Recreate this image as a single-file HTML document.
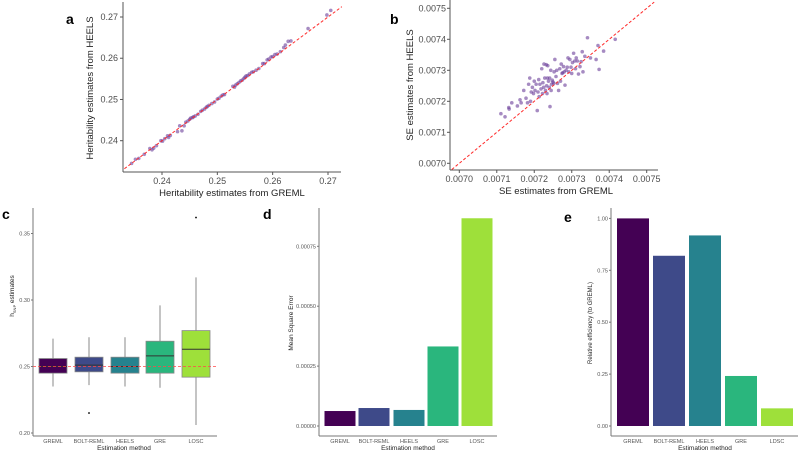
<!DOCTYPE html>
<html><head><meta charset="utf-8"><style>
html,body{margin:0;padding:0;background:#fff;}
svg{display:block;font-family:"Liberation Sans",sans-serif;}
</style></head><body>
<svg id="fig" width="800" height="452" viewBox="0 0 800 452"></svg>
<script>
// ---- data ----
const aX=[0.2345,0.2352,0.2358,0.2368,0.2378,0.2382,0.2385,0.2390,0.2398,0.2401,0.2405,0.2410,0.2412,0.2415,0.2428,0.2432,0.2436,0.2440,0.2443,0.2447,0.2450,0.2452,0.2455,0.2457,0.2460,0.2465,0.2470,0.2473,0.2477,0.2480,0.2482,0.2485,0.2490,0.2495,0.2500,0.2503,0.2507,0.2510,0.2513,0.2528,0.2531,0.2533,0.2536,0.2539,0.2542,0.2545,0.2548,0.2550,0.2552,0.2555,0.2558,0.2562,0.2565,0.2570,0.2575,0.2582,0.2585,0.2590,0.2593,0.2597,0.2600,0.2604,0.2608,0.2614,0.2620,0.2623,0.2628,0.2633,0.2664,0.2698,0.2705];
const aY=[0.2345,0.2355,0.2357,0.2367,0.2381,0.2378,0.2382,0.2388,0.2400,0.2399,0.2405,0.2412,0.2408,0.2413,0.2422,0.2436,0.2424,0.2436,0.2445,0.2448,0.2452,0.2455,0.2456,0.2458,0.2460,0.2464,0.2471,0.2474,0.2477,0.2481,0.2483,0.2486,0.2490,0.2494,0.2501,0.2503,0.2508,0.2511,0.2512,0.2532,0.2530,0.2535,0.2538,0.2541,0.2545,0.2547,0.2551,0.2554,0.2557,0.2558,0.2562,0.2566,0.2567,0.2571,0.2575,0.2587,0.2587,0.2596,0.2598,0.2603,0.2604,0.2609,0.2610,0.2616,0.2626,0.2632,0.2641,0.2642,0.2672,0.2705,0.2716];
const bX=[0.007111,0.007122,0.007132,0.007133,0.007140,0.007155,0.007162,0.007165,0.007172,0.007178,0.007182,0.007185,0.007188,0.007190,0.007192,0.007195,0.007198,0.007200,0.007202,0.007205,0.007208,0.007210,0.007212,0.007213,0.007215,0.007218,0.007220,0.007222,0.007223,0.007225,0.007226,0.007228,0.007230,0.007232,0.007233,0.007234,0.007235,0.007236,0.007238,0.007240,0.007241,0.007242,0.007244,0.007245,0.007246,0.007248,0.007250,0.007252,0.007253,0.007255,0.007258,0.007260,0.007262,0.007265,0.007268,0.007270,0.007272,0.007274,0.007276,0.007278,0.007280,0.007282,0.007285,0.007288,0.007290,0.007292,0.007295,0.007298,0.007300,0.007302,0.007305,0.007308,0.007310,0.007312,0.007315,0.007318,0.007322,0.007325,0.007328,0.007330,0.007335,0.007342,0.007350,0.007365,0.007370,0.007373,0.007385,0.007416];
const bY=[0.007160,0.007150,0.007180,0.007175,0.007195,0.007185,0.007205,0.007195,0.007235,0.007210,0.007195,0.007255,0.007275,0.007200,0.007230,0.007245,0.007225,0.007265,0.007235,0.007255,0.007170,0.007230,0.007270,0.007215,0.007255,0.007240,0.007305,0.007225,0.007260,0.007245,0.007320,0.007275,0.007235,0.007318,0.007250,0.007225,0.007275,0.007315,0.007265,0.007245,0.007275,0.007183,0.007300,0.007235,0.007255,0.007268,0.007262,0.007258,0.007295,0.007335,0.007280,0.007300,0.007258,0.007235,0.007305,0.007265,0.007320,0.007290,0.007292,0.007312,0.007295,0.007252,0.007300,0.007310,0.007340,0.007295,0.007335,0.007310,0.007290,0.007325,0.007355,0.007330,0.007305,0.007340,0.007330,0.007288,0.007312,0.007328,0.007360,0.007295,0.007345,0.007405,0.007340,0.007335,0.007380,0.007303,0.007362,0.007400];
const methods=["GREML","BOLT-REML","HEELS","GRE","LOSC"];
const colors=["#440154","#3e4a89","#26828e","#2ab67d","#9ee03a"];
const boxLo=[0.235,0.236,0.235,0.234,0.206];
const boxQ1=[0.245,0.246,0.245,0.245,0.242];
const boxMed=[0.250,0.251,0.250,0.258,0.263];
const boxQ3=[0.256,0.257,0.257,0.269,0.277];
const boxHi=[0.271,0.272,0.272,0.296,0.317];
const outM=[1,4];
const outV=[0.215,0.362];
const cTicks=[0.20,0.25,0.30,0.35];
const mse=[0.0000625,0.000075,0.000067,0.000332,0.000867];
const dTicks=[0,0.00025,0.0005,0.00075];
const dLabels=["0.00000","0.00025","0.00050","0.00075"];
const eMethods=["GREML","BOLT-REML","HEELS","GRE","LDSC"];
const eff=[1.0,0.82,0.918,0.241,0.085];
const eTicks=[0,0.25,0.5,0.75,1.0];
const eLabels=["0.00","0.25","0.50","0.75","1.00"];
const abTicks=[0.24,0.25,0.26,0.27];
const bTicks=[0.0070,0.0071,0.0072,0.0073,0.0074,0.0075];

const NS="http://www.w3.org/2000/svg";
const svg=document.getElementById('fig');
function el(tag,attrs,parent,txt){const e=document.createElementNS(NS,tag);for(const k in attrs)e.setAttribute(k,attrs[k]);if(txt!==undefined)e.textContent=txt;(parent||svg).appendChild(e);return e;}
function lin(d0,d1,r0,r1){return v=>r0+(v-d0)/(d1-d0)*(r1-r0);}
function grp(name){const g=el('g',{},svg);return g;}
function label(t,x,y){const e=el('text',{x:x,y:y,'font-size':14,'font-weight':'bold',fill:'#000'},svg,t);}

// ---- panel a ----
(function(){
const g=grp('panel-a-scatter');
const X=lin(0.24,0.27,162,328), Y=lin(0.24,0.27,140.7,17);
el('line',{x1:123,y1:2,x2:123,y2:172,stroke:'#555','stroke-width':1},g);
el('line',{x1:123,y1:172,x2:341,y2:172,stroke:'#555','stroke-width':1},g);
abTicks.forEach(t=>{
 el('line',{x1:X(t),y1:172,x2:X(t),y2:175,stroke:'#555'},g);
 el('text',{x:X(t),y:184,'font-size':9,fill:'#4d4d4d','text-anchor':'middle'},g,t.toFixed(2));
 el('line',{x1:120,y1:Y(t),x2:123,y2:Y(t),stroke:'#555'},g);
 el('text',{x:118,y:Y(t)+3,'font-size':9,fill:'#4d4d4d','text-anchor':'end'},g,t.toFixed(2));
});
aX.forEach((v,i)=>{const c=el('circle',{cx:X(v),cy:Y(aY[i]),r:1.8,fill:'#6a3d9a','fill-opacity':0.6},g);});
el('line',{x1:X(0.2332),y1:Y(0.2332),x2:X(0.2725),y2:Y(0.2725),stroke:'#ff2a2a','stroke-width':1,'stroke-dasharray':'3,2'},g);
el('text',{x:232,y:196,'font-size':9.5,fill:'#222','text-anchor':'middle'},g,'Heritability estimates from GREML');
el('text',{x:0,y:0,'font-size':9.5,fill:'#222','text-anchor':'middle',transform:'translate(93,88) rotate(-90)'},g,'Heritability estimates from HEELS');
})();
label('a',66,24);

// ---- panel b ----
(function(){
const g=grp('panel-b-scatter');
const X=lin(0.0070,0.0075,459.3,646.7), Y=lin(0.0070,0.0075,163.3,8.3);
el('line',{x1:450,y1:0,x2:450,y2:170,stroke:'#555'},g);
el('line',{x1:450,y1:170,x2:658,y2:170,stroke:'#555'},g);
bTicks.forEach(t=>{
 el('line',{x1:X(t),y1:170,x2:X(t),y2:173,stroke:'#555'},g);
 el('text',{x:X(t),y:182,'font-size':9,fill:'#4d4d4d','text-anchor':'middle'},g,t.toFixed(4));
 el('line',{x1:447,y1:Y(t),x2:450,y2:Y(t),stroke:'#555'},g);
 el('text',{x:446,y:Y(t)+3,'font-size':9,fill:'#4d4d4d','text-anchor':'end'},g,t.toFixed(4));
});
bX.forEach((v,i)=>{const c=el('circle',{cx:X(v),cy:Y(bY[i]),r:1.8,fill:'#6a3d9a','fill-opacity':0.6},g);});
el('line',{x1:X(0.00698),y1:Y(0.00698),x2:X(0.00752),y2:Y(0.00752),stroke:'#ff2a2a','stroke-width':1,'stroke-dasharray':'3,2'},g);
el('text',{x:556,y:194,'font-size':9.5,fill:'#222','text-anchor':'middle'},g,'SE estimates from GREML');
el('text',{x:0,y:0,'font-size':9.5,fill:'#222','text-anchor':'middle',transform:'translate(413,85) rotate(-90)'},g,'SE estimates from HEELS');
})();
label('b',390,24);

// ---- panel c ----
(function(){
const g=grp('panel-c-boxplot');
const Y=lin(0.20,0.35,433,233.5);
const cx=[53,89,125,160,196];
el('line',{x1:33,y1:208,x2:33,y2:436,stroke:'#777'},g);
el('line',{x1:33,y1:436,x2:217,y2:436,stroke:'#777'},g);
cTicks.forEach(t=>{
 el('line',{x1:31,y1:Y(t),x2:33,y2:Y(t),stroke:'#777'},g);
 el('text',{x:30,y:Y(t)+2,'font-size':5.5,fill:'#555','text-anchor':'end'},g,t.toFixed(2));
});
methods.forEach((m,i)=>{
 el('line',{x1:cx[i],y1:Y(boxHi[i]),x2:cx[i],y2:Y(boxLo[i]),stroke:'#888'},g);
 const r=el('rect',{x:cx[i]-14,y:Y(boxQ3[i]),width:28,height:Y(boxQ1[i])-Y(boxQ3[i]),fill:colors[i],stroke:'#888','stroke-width':0.8},g);
 
 el('line',{x1:cx[i]-14,y1:Y(boxMed[i]),x2:cx[i]+14,y2:Y(boxMed[i]),stroke:'#333','stroke-width':1},g);
 el('text',{x:cx[i],y:443,'font-size':5.5,fill:'#555','text-anchor':'middle'},g,m);
});
outM.forEach((m,i)=>{el('circle',{cx:cx[m],cy:Y(outV[i]),r:0.9,fill:'#000'},g);});
el('line',{x1:33,y1:Y(0.25),x2:217,y2:Y(0.25),stroke:'#ff4a4a','stroke-width':0.8,'stroke-dasharray':'3,2'},g);
el('text',{x:124,y:450,'font-size':6.5,fill:'#222','text-anchor':'middle'},g,'Estimation method');
const t=el('text',{x:0,y:0,'font-size':6.5,fill:'#222','text-anchor':'middle',transform:'translate(14,296) rotate(-90)'},g,'h');
el('tspan',{'font-size':4,dy:2},t,'SNP');el('tspan',{'font-size':6.5,dy:-2},t,'\u00a0estimates');
})();
label('c',2,219);

// ---- panel d ----
(function(){
const g=grp('panel-d-bars');
const Y=lin(0,0.00075,426,246.3);
const cx=[340,374,409,443,477];
el('line',{x1:319,y1:208,x2:319,y2:436,stroke:'#777'},g);
el('line',{x1:319,y1:436,x2:497,y2:436,stroke:'#777'},g);
dTicks.forEach((t,i)=>{
 el('line',{x1:317,y1:Y(t),x2:319,y2:Y(t),stroke:'#777'},g);
 el('text',{x:316,y:Y(t)+2,'font-size':5.5,fill:'#555','text-anchor':'end'},g,dLabels[i]);
});
mse.forEach((v,i)=>{
 const r=el('rect',{x:cx[i]-15.5,y:Y(v),width:31,height:Y(0)-Y(v),fill:colors[i]},g);
 
 el('text',{x:cx[i],y:443,'font-size':5.5,fill:'#555','text-anchor':'middle'},g,methods[i]);
});
el('text',{x:408,y:450,'font-size':6.5,fill:'#222','text-anchor':'middle'},g,'Estimation method');
el('text',{x:0,y:0,'font-size':6.5,fill:'#222','text-anchor':'middle',transform:'translate(293,323) rotate(-90)'},g,'Mean Square Error');
})();
label('d',263,219);

// ---- panel e ----
(function(){
const g=grp('panel-e-bars');
const Y=lin(0,0.75,426,270.3);
const cx=[633,669,705,741,777];
el('line',{x1:611,y1:208,x2:611,y2:436,stroke:'#777'},g);
el('line',{x1:611,y1:436,x2:798,y2:436,stroke:'#777'},g);
eTicks.forEach((t,i)=>{
 el('line',{x1:609,y1:Y(t),x2:611,y2:Y(t),stroke:'#777'},g);
 el('text',{x:608,y:Y(t)+2,'font-size':5.5,fill:'#555','text-anchor':'end'},g,eLabels[i]);
});
eff.forEach((v,i)=>{
 const r=el('rect',{x:cx[i]-16,y:Y(v),width:32,height:Y(0)-Y(v),fill:colors[i]},g);
 
 el('text',{x:cx[i],y:443,'font-size':5.5,fill:'#555','text-anchor':'middle'},g,eMethods[i]);
});
el('text',{x:705,y:450,'font-size':6.5,fill:'#222','text-anchor':'middle'},g,'Estimation method');
el('text',{x:0,y:0,'font-size':6,fill:'#222','text-anchor':'middle',transform:'translate(592,323) rotate(-90)'},g,'Relative efficiency (to GREML)');
})();
label('e',564,222);
</script>
</body></html>
